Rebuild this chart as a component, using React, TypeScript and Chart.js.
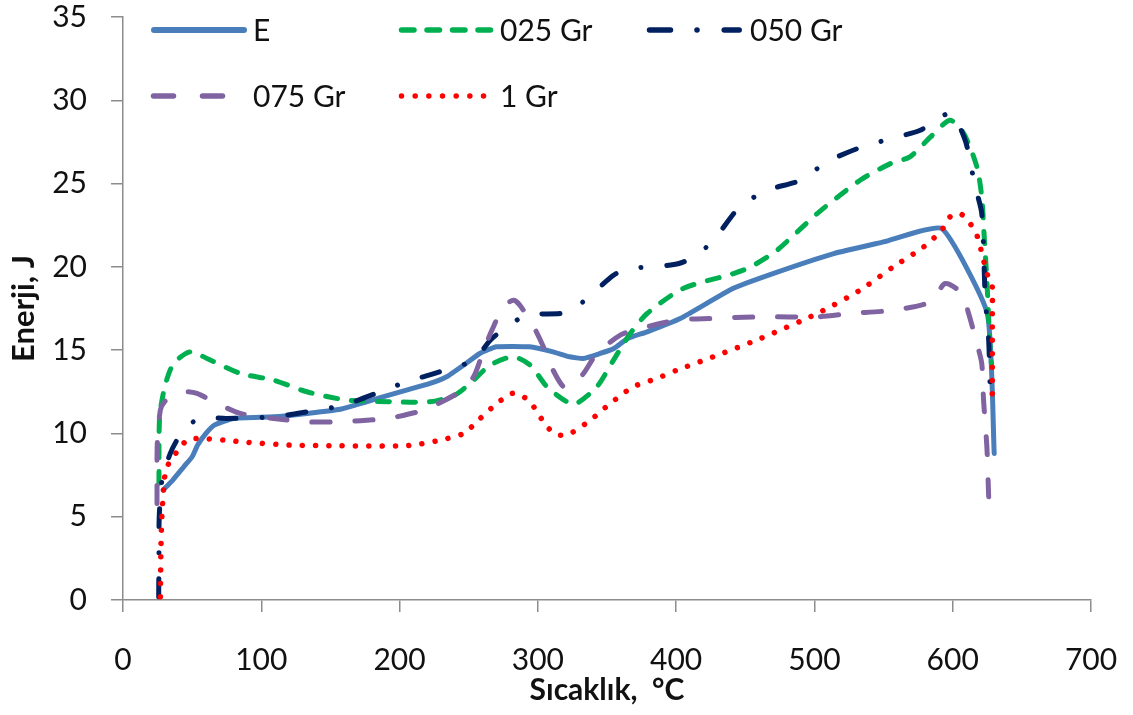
import React, { useEffect, useRef } from "react";
import { Chart, registerables } from "chart.js";

Chart.register(...registerables);

// ---- Data ----
const xTickValues = [0, 100, 200, 300, 400, 500, 600, 700];
const yTickValues = [0, 5, 10, 15, 20, 25, 30, 35];

const seriesLabels = ["E", "025 Gr", "050 Gr", "075 Gr", "1 Gr"];

const eX = [29, 36, 44, 50, 54, 60, 66, 80, 109, 133, 157, 186, 205, 222, 234, 248, 258, 270, 294, 311, 323, 333, 345, 355, 365, 379, 403, 441, 470, 514, 550, 592, 625, 630];
const eY = [6.6, 7.2, 8.0, 8.6, 9.3, 10.0, 10.5, 10.9, 11.0, 11.2, 11.45, 12.15, 12.6, 13.0, 13.4, 14.2, 14.8, 15.2, 15.2, 14.9, 14.6, 14.5, 14.8, 15.1, 15.7, 16.1, 16.9, 18.7, 19.6, 20.8, 21.5, 22.3, 17.2, 8.8];

const gr025X = [26, 26.5, 30.5, 36.6, 48.7, 60.7, 84.8, 109, 133, 162, 196, 222, 240, 251, 265.6, 282, 294.5, 306.6, 321, 328, 342.7, 354.7, 366.8, 379, 405, 441.5, 454, 473, 502, 533, 555, 569, 584, 598, 608, 617.5, 621, 622.5, 624.7, 627, 628];
const gr025Y = [7.0, 11.0, 12.9, 14.2, 14.9, 14.5, 13.6, 13.2, 12.5, 12.0, 11.9, 11.9, 12.3, 13.0, 14.1, 14.6, 14.1, 12.8, 11.9, 11.8, 12.8, 14.4, 16.0, 17.2, 18.7, 19.6, 20.0, 21.0, 23.2, 25.2, 26.2, 26.6, 27.8, 28.8, 28.0, 26.0, 24.2, 22.2, 19.2, 15.2, 14.2];

const gr050X = [25.8, 26, 26.2, 28.2, 34.2, 41.4, 54.7, 75, 109, 133, 159.5, 186, 205, 229, 253.5, 265.6, 277.7, 292, 316, 325, 338, 354.7, 364.4, 384, 402, 415, 428, 446, 466, 490, 509, 531, 555, 576.5, 598, 609, 616, 621, 623.5, 626, 627];
const gr050Y = [0.2, 2.6, 5.0, 7.2, 8.8, 9.9, 10.9, 10.9, 11.0, 11.3, 11.7, 12.5, 13.1, 13.7, 14.4, 15.6, 16.4, 17.1, 17.2, 17.4, 18.3, 19.5, 19.9, 20.0, 20.2, 20.7, 21.7, 23.6, 24.6, 25.2, 26.3, 27.1, 27.7, 28.2, 29.2, 27.6, 24.9, 23.2, 18.2, 15.6, 12.8];

const gr075X = [24.6, 24.8, 27, 30, 35.4, 45, 53.5, 68, 84.8, 109, 133, 157, 186, 198, 217, 241.5, 253.5, 260.7, 266.8, 275, 282.4, 287, 297, 304, 311, 318.6, 325, 333, 342.7, 359.6, 374, 400.6, 424.6, 461, 502, 526, 557, 584, 594.6, 606.6, 611.5, 617.5, 621, 622.3, 624.7, 626];
const gr075Y = [5.8, 9.4, 11.4, 11.9, 12.2, 12.5, 12.4, 11.8, 11.2, 10.9, 10.7, 10.7, 10.85, 11.0, 11.4, 12.4, 13.4, 15.0, 16.2, 17.6, 18.0, 17.7, 16.4, 15.2, 13.8, 12.8, 12.9, 13.6, 14.8, 15.9, 16.3, 16.8, 16.9, 17.0, 17.0, 17.2, 17.4, 17.9, 19.0, 18.4, 17.2, 15.4, 14.2, 12.0, 9.2, 6.2];

const gr1X = [27, 27.5, 28.2, 29.4, 30.6, 34.2, 40.2, 46.3, 54.7, 72.8, 84.8, 121, 157, 198, 210, 229.4, 246.3, 258.3, 270.4, 281.3, 289.7, 297, 306.6, 315, 323.4, 338, 352.4, 369, 386, 400.6, 430, 461, 502, 533, 557, 579, 592, 598, 605.4, 612.6, 617.5, 622.3, 624.7, 628.4, 628.6, 628.6];
const gr1Y = [0.2, 3.4, 5.2, 6.7, 7.6, 8.4, 9.0, 9.6, 9.7, 9.6, 9.5, 9.3, 9.26, 9.24, 9.3, 9.6, 10.0, 10.9, 11.8, 12.4, 12.2, 11.6, 10.4, 9.9, 10.0, 10.8, 11.8, 12.8, 13.3, 13.8, 14.7, 15.7, 17.2, 18.6, 20.0, 21.2, 22.2, 23.0, 23.2, 22.6, 21.9, 20.4, 19.6, 19.0, 17.2, 12.2];

const FONT = "Lato, 'Open Sans', sans-serif";
const AXIS_COLOR = "#8c8c8c";
const TEXT_COLOR = "#111111";

const toPoints = (xs: number[], ys: number[]) => xs.map((x, i) => ({ x, y: ys[i] }));

// legend layout (style only)
const legendItems = [
  { index: 0, x1: 154, x2: 244, y: 30, tx: 253, dash: [] as number[] },
  { index: 1, x1: 401.5, x2: 490.5, y: 30, tx: 500, dash: [12.5, 13] },
  { index: 2, x1: 649.5, x2: 739.2, y: 30, tx: 750, dash: [21, 26.5, 0.01, 27.2] },
  { index: 3, x1: 153.5, x2: 222.5, y: 96, tx: 253, dash: [20, 29] },
  { index: 4, x1: 401.5, x2: 484, y: 96, tx: 500, dash: [0.01, 13.66] },
];

const legendPlugin = {
  id: "insideLegend",
  afterDraw(chart: any) {
    const ctx = chart.ctx as CanvasRenderingContext2D;
    ctx.save();
    legendItems.forEach((item) => {
      const ds = chart.data.datasets[item.index];
      ctx.beginPath();
      ctx.setLineDash(item.dash);
      ctx.lineCap = "round";
      ctx.lineWidth = item.index === 0 ? 6 : 5.5;
      ctx.strokeStyle = ds.borderColor;
      ctx.moveTo(item.x1, item.y);
      ctx.lineTo(item.x2, item.y);
      ctx.stroke();
      ctx.setLineDash([]);
      ctx.fillStyle = TEXT_COLOR;
      ctx.font = `30px ${FONT}`;
      ctx.textBaseline = "middle";
      ctx.textAlign = "left";
      ctx.fillText(ds.label, item.tx, item.y + 1);
    });
    ctx.restore();
  },
};

export default function App() {
  const canvasRef = useRef<HTMLCanvasElement | null>(null);

  useEffect(() => {
    if (!canvasRef.current) return;
    const common = {
      showLine: true,
      pointRadius: 0,
      pointHoverRadius: 0,
      fill: false,
      tension: 0.25,
      borderCapStyle: "round" as const,
      borderJoinStyle: "round" as const,
    };
    const chart = new Chart(canvasRef.current, {
      type: "scatter",
      data: {
        datasets: [
          { ...common, label: seriesLabels[0], data: toPoints(eX, eY), borderColor: "#4a7ebb", borderWidth: 5, order: 5, tension: 0.15 },
          { ...common, label: seriesLabels[1], data: toPoints(gr025X, gr025Y), borderColor: "#00b050", borderWidth: 5, borderDash: [12, 14], order: 4 },
          { ...common, label: seriesLabels[2], data: toPoints(gr050X, gr050Y), borderColor: "#002060", borderWidth: 5, borderDash: [18, 26, 0.01, 26], order: 3 },
          { ...common, label: seriesLabels[3], data: toPoints(gr075X, gr075Y), borderColor: "#8064a2", borderWidth: 5, borderDash: [18, 25], order: 2 },
          { ...common, label: seriesLabels[4], data: toPoints(gr1X, gr1Y), borderColor: "#ff0000", borderWidth: 5.5, borderDash: [0.01, 13.3], order: 1 },
        ],
      },
      options: {
        responsive: false,
        animation: false,
        devicePixelRatio: 1,
        layout: { padding: { left: 0, right: 42, top: 17, bottom: 0 } },
        plugins: {
          legend: { display: false },
          tooltip: { enabled: false },
        },
        scales: {
          x: {
            type: "linear",
            min: 0,
            max: 700,
            afterBuildTicks: (scale: any) => {
              scale.ticks = xTickValues.map((v) => ({ value: v }));
            },
            afterFit: (scale: any) => {
              scale.height = 115;
              scale.paddingLeft = 0;
              scale.paddingRight = 0;
            },
            ticks: {
              color: TEXT_COLOR,
              font: { family: FONT, size: 30 },
              padding: 30,
              maxRotation: 0,
            },
            grid: { drawOnChartArea: false, drawTicks: true, tickLength: 12, color: AXIS_COLOR, lineWidth: 1.5 },
            border: { display: true, color: AXIS_COLOR, width: 1.5 },
            title: {
              display: true,
              text: "Sıcaklık,  °C",
              color: TEXT_COLOR,
              font: { family: FONT, size: 30, weight: "bold" },
              padding: { top: 0, bottom: 7 },
            },
          },
          y: {
            type: "linear",
            min: 0,
            max: 35,
            afterBuildTicks: (scale: any) => {
              scale.ticks = yTickValues.map((v) => ({ value: v }));
            },
            afterFit: (scale: any) => {
              scale.width = 123;
              scale.paddingTop = 0;
              scale.paddingBottom = 0;
            },
            ticks: {
              color: TEXT_COLOR,
              font: { family: FONT, size: 30 },
              padding: 24,
            },
            grid: { drawOnChartArea: false, drawTicks: true, tickLength: 12, color: AXIS_COLOR, lineWidth: 1.5 },
            border: { display: true, color: AXIS_COLOR, width: 1.5 },
            title: {
              display: true,
              text: "Enerji, J",
              color: TEXT_COLOR,
              font: { family: FONT, size: 31, weight: "bold" },
              padding: { top: 5, bottom: 0 },
            },
          },
        },
      },
      plugins: [legendPlugin],
    } as any);
    return () => chart.destroy();
  }, []);

  return (
    <div style={{ position: "fixed", left: 0, top: 0, width: 1133, height: 715, background: "#fff" }}>
      <canvas ref={canvasRef} width={1133} height={715} style={{ width: 1133, height: 715, display: "block" }} />
    </div>
  );
}
